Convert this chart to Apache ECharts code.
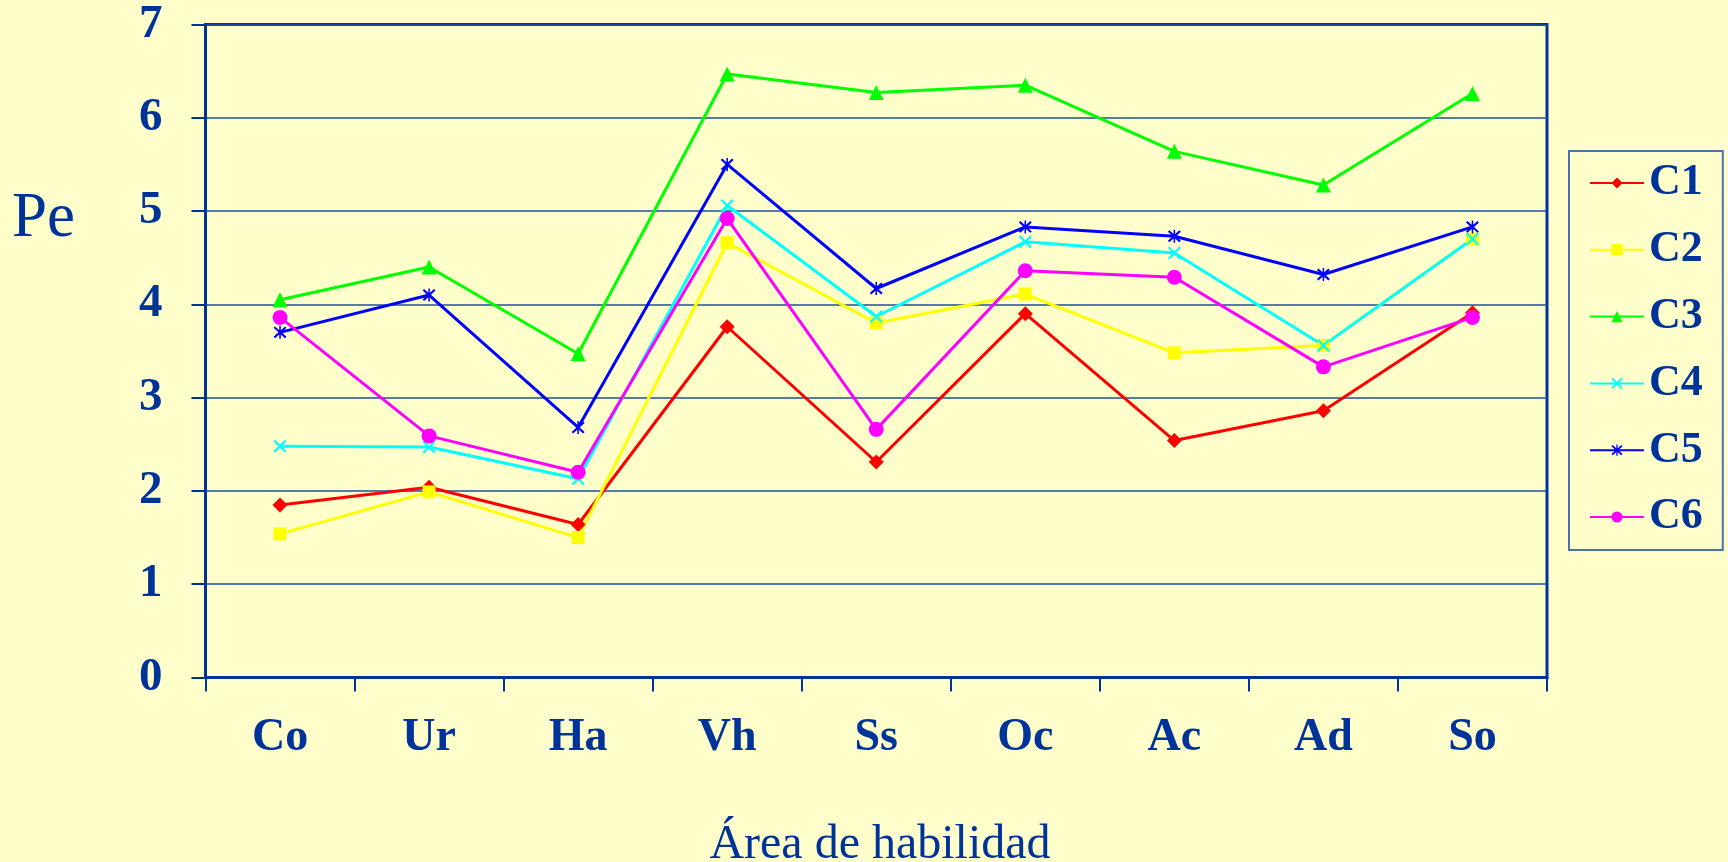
<!DOCTYPE html>
<html>
<head>
<meta charset="utf-8">
<script src="https://cdn.jsdelivr.net/npm/echarts@6/dist/echarts.min.js"></script>
<style>
html,body{margin:0;padding:0;background:#FFFFCC;}
#chart{width:1728px;height:862px;}
</style>
</head>
<body>
<div id="chart"></div>
<script>
const categories = ['Co','Ur','Ha','Vh','Ss','Oc','Ac','Ad','So'];
const yTicks = [0,1,2,3,4,5,6,7];
const C1 = [1.85, 2.04, 1.64, 3.76, 2.31, 3.90, 2.54, 2.86, 3.91];
const C2 = [1.54, 1.99, 1.50, 4.66, 3.80, 4.11, 3.48, 3.56, 4.70];
const C3 = [4.05, 4.40, 3.47, 6.47, 6.27, 6.35, 5.64, 5.28, 6.26];
const C4 = [2.48, 2.47, 2.13, 5.06, 3.87, 4.67, 4.55, 3.56, 4.70];
const C5 = [3.70, 4.10, 2.68, 5.50, 4.17, 4.83, 4.73, 4.32, 4.83];
const C6 = [3.86, 2.59, 2.20, 4.92, 2.66, 4.36, 4.29, 3.33, 3.86];
const seriesNames = ['C1','C2','C3','C4','C5','C6'];
const xTitle = 'Área de habilidad';
const yTitle = 'Pe';

const SERIF = '"Liberation Serif","Times New Roman",serif';
const TXT = '#003399';
const XMARK = 'path://M0,1.2L1.2,0L5,3.8L8.8,0L10,1.2L6.2,5L10,8.8L8.8,10L5,6.2L1.2,10L0,8.8L3.8,5Z';
const STAR = 'path://M0,1.2L1.2,0L5,3.8L8.8,0L10,1.2L6.2,5L10,8.8L8.8,10L5,6.2L1.2,10L0,8.8L3.8,5Z M4.4,-0.5L5.6,-0.5L5.6,10.5L4.4,10.5Z';

const defs = [
  {name: seriesNames[0], data: C1, color: '#FF0000', symbol: 'diamond', size: 15},
  {name: seriesNames[1], data: C2, color: '#FFFF00', symbol: 'rect', size: 13},
  {name: seriesNames[2], data: C3, color: '#00FF00', symbol: 'triangle', size: 15},
  {name: seriesNames[3], data: C4, color: '#00FFFF', symbol: XMARK, size: 13},
  {name: seriesNames[4], data: C5, color: '#0000FF', symbol: STAR, size: 13},
  {name: seriesNames[5], data: C6, color: '#FF00FF', symbol: 'circle', size: 15}
];

const chart = echarts.init(document.getElementById('chart'), null, {renderer: 'canvas'});
chart.setOption({
  backgroundColor: '#FFFFCC',
  animation: false,
  grid: {
    left: 205.5, right: 181, top: 24.5, bottom: 184.5,
    containLabel: false,
    outerBoundsMode: 'none',
    show: true, borderColor: TXT, borderWidth: 3, backgroundColor: 'transparent'
  },
  graphic: [
    {type: 'text', x: 12, y: 219, style: {text: yTitle, font: '63px ' + SERIF, fill: TXT, align: 'left', verticalAlign: 'middle'}},
    {type: 'text', x: 880, y: 845, style: {text: xTitle, font: '48px ' + SERIF, fill: TXT, align: 'center', verticalAlign: 'middle'}}
  ],
  legend: {
    orient: 'vertical',
    left: 1569, top: 151,
    padding: [10, 20, 11, 20],
    itemGap: 22.8,
    itemWidth: 54,
    itemHeight: 14,
    backgroundColor: 'transparent',
    borderColor: '#4F6FAE',
    borderWidth: 2,
    textStyle: {fontFamily: SERIF, fontWeight: 'bold', fontSize: 44, color: TXT, lineHeight: 44},
    data: seriesNames
  },
  xAxis: {
    type: 'category',
    data: categories,
    boundaryGap: true,
    axisLine: {show: true, lineStyle: {color: TXT, width: 3}},
    axisTick: {show: true, length: 14, lineStyle: {color: TXT, width: 2}, alignWithLabel: false},
    axisLabel: {fontFamily: SERIF, fontWeight: 'bold', fontSize: 46, color: TXT, margin: 38, interval: 0},
    splitLine: {show: false}
  },
  yAxis: {
    type: 'value',
    min: yTicks[0], max: yTicks[yTicks.length - 1], interval: 1,
    axisLine: {show: true, lineStyle: {color: TXT, width: 3}},
    axisTick: {show: true, length: 14, lineStyle: {color: TXT, width: 2}},
    axisLabel: {fontFamily: SERIF, fontWeight: 'bold', fontSize: 47, color: TXT, margin: 43},
    splitLine: {show: true, lineStyle: {color: '#1F4E9F', width: 1.5}}
  },
  series: defs.map(d => ({
    name: d.name,
    type: 'line',
    data: d.data,
    symbol: d.symbol,
    symbolSize: d.size,
    showAllSymbol: true,
    lineStyle: {color: d.color, width: 3},
    itemStyle: {color: d.color, borderColor: d.color, borderWidth: 0},
    emphasis: {disabled: true}
  }))
});
</script>
</body>
</html>
